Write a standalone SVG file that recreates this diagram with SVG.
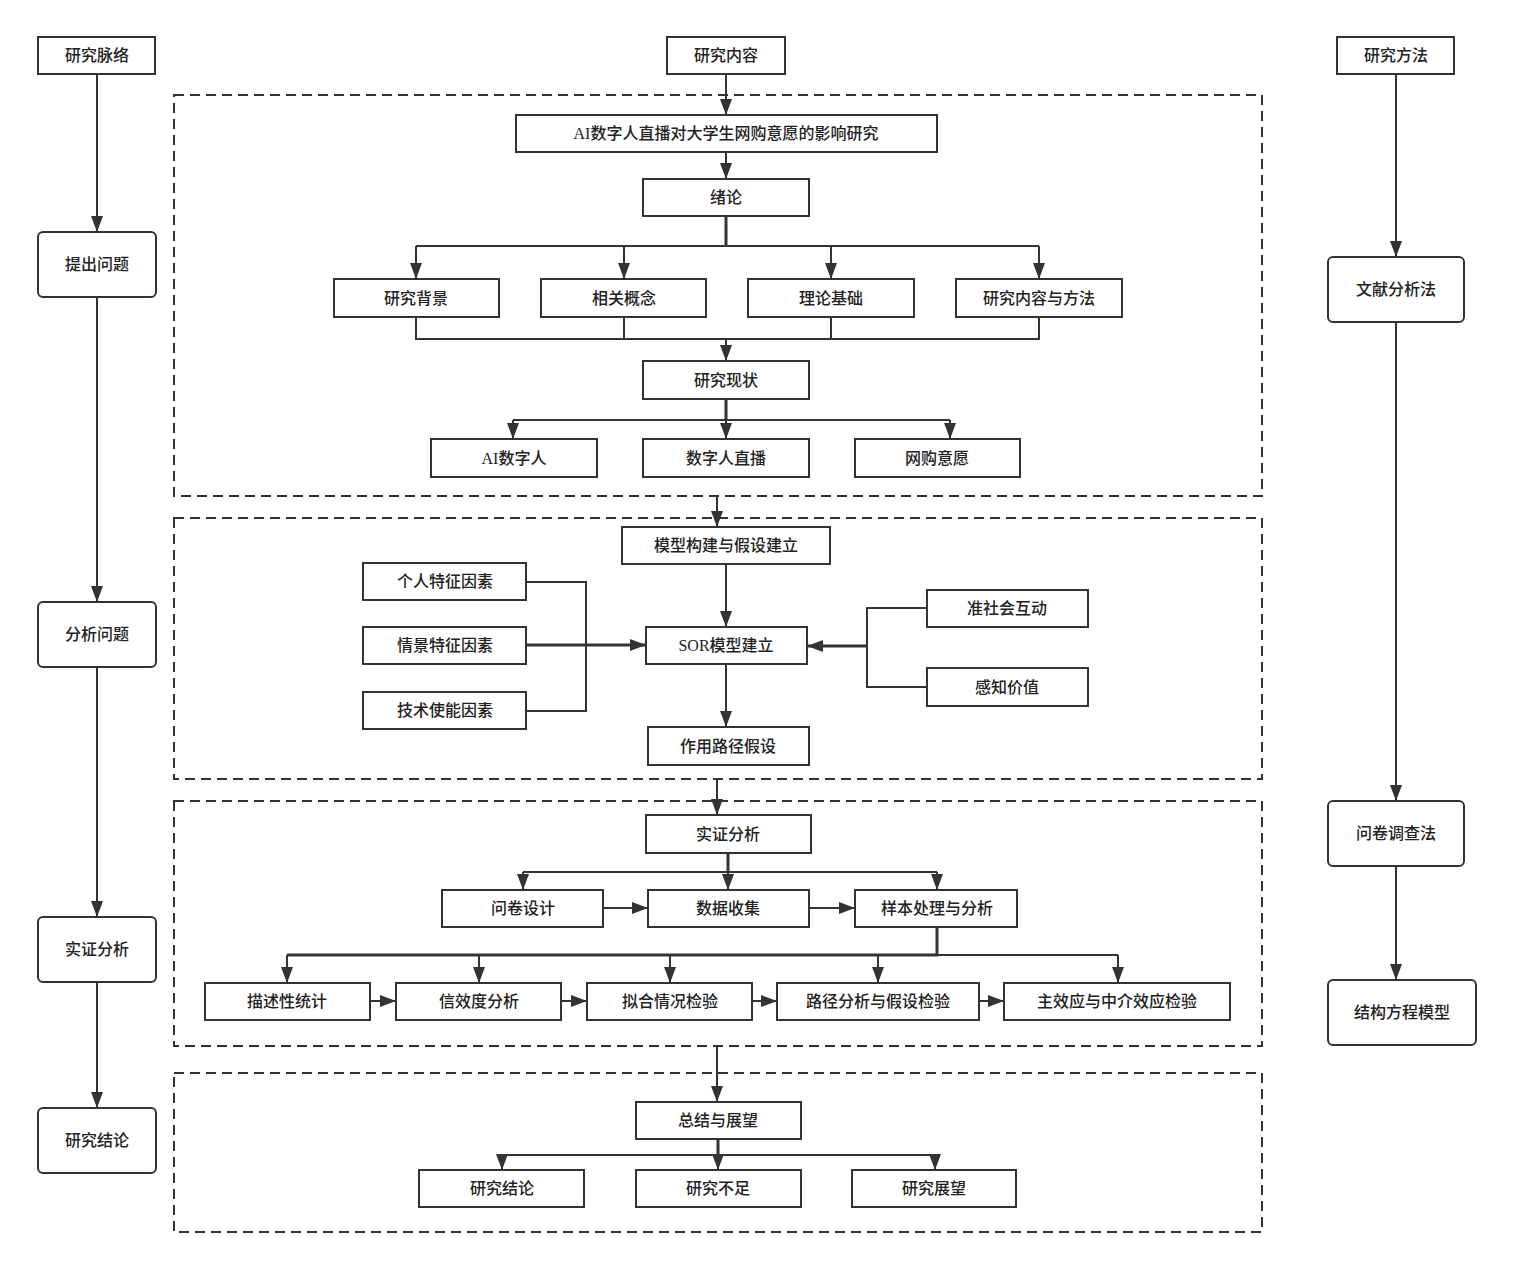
<svg xmlns="http://www.w3.org/2000/svg" width="1513" height="1270" viewBox="0 0 1513 1270">
<style>
.n{fill:#fff;stroke:#333;stroke-width:2}
.t{font-family:"Liberation Serif","Noto Sans CJK SC",serif;font-size:16px;font-weight:500;fill:#222;text-anchor:middle;dominant-baseline:central}
.c{fill:none;stroke:#333;stroke-width:2}
.d{fill:none;stroke:#333;stroke-width:2;stroke-dasharray:10 6}
</style>
<defs>
<marker id="a" markerUnits="userSpaceOnUse" markerWidth="16" markerHeight="12" refX="16" refY="6" orient="auto">
<path d="M0,0 L16,6 L0,12 z" fill="#333"/>
</marker>
</defs>
<rect width="1513" height="1270" fill="#fff"/>
<g id="sections">
<rect class="d" x="174" y="95" width="1088" height="401"/>
<rect class="d" x="174" y="518" width="1088" height="261"/>
<rect class="d" x="174" y="801" width="1088" height="245"/>
<rect class="d" x="174" y="1073" width="1088" height="159"/>
</g>
<g id="connectors">
<path class="c" d="M97,74 V232" marker-end="url(#a)"/>
<path class="c" d="M97,297 V602" marker-end="url(#a)"/>
<path class="c" d="M97,667 V917" marker-end="url(#a)"/>
<path class="c" d="M97,982 V1108" marker-end="url(#a)"/>
<path class="c" d="M1396,74 V257" marker-end="url(#a)"/>
<path class="c" d="M1396,322 V801" marker-end="url(#a)"/>
<path class="c" d="M1396,866 V980" marker-end="url(#a)"/>
<path class="c" d="M726,74 V115" marker-end="url(#a)"/>
<path class="c" d="M726,152 V179" marker-end="url(#a)"/>
<path class="c" style="stroke-width:3" d="M726,216 V246"/>
<path class="c" d="M416,246 H1039"/>
<path class="c" d="M416,246 V279" marker-end="url(#a)"/>
<path class="c" d="M624,246 V279" marker-end="url(#a)"/>
<path class="c" d="M831,246 V279" marker-end="url(#a)"/>
<path class="c" d="M1039,246 V279" marker-end="url(#a)"/>
<path class="c" d="M416,317 V339 H1039 V317 M624,317 V339 M831,317 V339"/>
<path class="c" d="M726,339 V361" marker-end="url(#a)"/>
<path class="c" style="stroke-width:3" d="M726,399 V420"/>
<path class="c" d="M513,420 H950"/>
<path class="c" d="M513,420 V439" marker-end="url(#a)"/>
<path class="c" d="M726,420 V439" marker-end="url(#a)"/>
<path class="c" d="M950,420 V439" marker-end="url(#a)"/>
<path class="c" d="M717,496 V527" marker-end="url(#a)"/>
<path class="c" d="M726,564 V627" marker-end="url(#a)"/>
<path class="c" d="M526,582 H586 V711 H526"/>
<path class="c" style="stroke-width:3" d="M526,645 H646" marker-end="url(#a)"/>
<path class="c" d="M927,608 H867 V687 H927"/>
<path class="c" style="stroke-width:3" d="M867,646 H807" marker-end="url(#a)"/>
<path class="c" d="M726,664 V727" marker-end="url(#a)"/>
<path class="c" d="M717,779 V815" marker-end="url(#a)"/>
<path class="c" style="stroke-width:3" d="M728,853 V872"/>
<path class="c" d="M523,872 H937"/>
<path class="c" d="M523,872 V890" marker-end="url(#a)"/>
<path class="c" d="M728,872 V890" marker-end="url(#a)"/>
<path class="c" d="M937,872 V890" marker-end="url(#a)"/>
<path class="c" d="M603,908 H648" marker-end="url(#a)"/>
<path class="c" d="M809,908 H855" marker-end="url(#a)"/>
<path class="c" style="stroke-width:3" d="M937,927 V955 H287"/>
<path class="c" d="M937,955 H1118"/>
<path class="c" d="M287,955 V983" marker-end="url(#a)"/>
<path class="c" d="M479,955 V983" marker-end="url(#a)"/>
<path class="c" d="M670,955 V983" marker-end="url(#a)"/>
<path class="c" d="M878,955 V983" marker-end="url(#a)"/>
<path class="c" d="M1118,955 V983" marker-end="url(#a)"/>
<path class="c" d="M370,1001 H396" marker-end="url(#a)"/>
<path class="c" d="M561,1001 H587" marker-end="url(#a)"/>
<path class="c" d="M752,1001 H777" marker-end="url(#a)"/>
<path class="c" d="M979,1001 H1004" marker-end="url(#a)"/>
<path class="c" d="M717,1046 V1102" marker-end="url(#a)"/>
<path class="c" style="stroke-width:3" d="M718,1139 V1155"/>
<path class="c" d="M502,1155 H935"/>
<path class="c" d="M502,1155 V1170" marker-end="url(#a)"/>
<path class="c" d="M718,1155 V1170" marker-end="url(#a)"/>
<path class="c" d="M935,1155 V1170" marker-end="url(#a)"/>
</g>
<g id="n-mailuo"><rect class="n" x="38" y="37" width="117" height="37"/><text class="t" x="97" y="55">研究脉络</text></g>
<g id="n-tichu"><rect class="n" x="38" y="232" width="118" height="65" rx="5"/><text class="t" x="97" y="264">提出问题</text></g>
<g id="n-fenxi"><rect class="n" x="38" y="602" width="118" height="65" rx="5"/><text class="t" x="97" y="634">分析问题</text></g>
<g id="n-shizheng-l"><rect class="n" x="38" y="917" width="118" height="65" rx="5"/><text class="t" x="97" y="949">实证分析</text></g>
<g id="n-jielun-l"><rect class="n" x="38" y="1108" width="118" height="65" rx="5"/><text class="t" x="97" y="1140">研究结论</text></g>
<g id="n-neirong"><rect class="n" x="667" y="37" width="118" height="37"/><text class="t" x="726" y="55">研究内容</text></g>
<g id="n-fangfa"><rect class="n" x="1337" y="37" width="117" height="37"/><text class="t" x="1396" y="55">研究方法</text></g>
<g id="n-wenxian"><rect class="n" x="1328" y="257" width="136" height="65" rx="5"/><text class="t" x="1396" y="289">文献分析法</text></g>
<g id="n-wenjuan-m"><rect class="n" x="1328" y="801" width="136" height="65" rx="5"/><text class="t" x="1396" y="833">问卷调查法</text></g>
<g id="n-sem"><rect class="n" x="1328" y="980" width="148" height="65" rx="5"/><text class="t" x="1402" y="1012">结构方程模型</text></g>
<g id="n-title"><rect class="n" x="516" y="115" width="421" height="37"/><text class="t" x="726" y="133">AI数字人直播对大学生网购意愿的影响研究</text></g>
<g id="n-xulun"><rect class="n" x="643" y="179" width="166" height="37"/><text class="t" x="726" y="197">绪论</text></g>
<g id="n-beijing"><rect class="n" x="334" y="279" width="165" height="38"/><text class="t" x="416" y="298">研究背景</text></g>
<g id="n-gainian"><rect class="n" x="541" y="279" width="165" height="38"/><text class="t" x="624" y="298">相关概念</text></g>
<g id="n-lilun"><rect class="n" x="748" y="279" width="166" height="38"/><text class="t" x="831" y="298">理论基础</text></g>
<g id="n-nrff"><rect class="n" x="956" y="279" width="166" height="38"/><text class="t" x="1039" y="298">研究内容与方法</text></g>
<g id="n-xianzhuang"><rect class="n" x="643" y="361" width="166" height="38"/><text class="t" x="726" y="380">研究现状</text></g>
<g id="n-ai"><rect class="n" x="431" y="439" width="166" height="38"/><text class="t" x="514" y="458">AI数字人</text></g>
<g id="n-zhibo"><rect class="n" x="643" y="439" width="166" height="38"/><text class="t" x="726" y="458">数字人直播</text></g>
<g id="n-yiyuan"><rect class="n" x="855" y="439" width="165" height="38"/><text class="t" x="937" y="458">网购意愿</text></g>
<g id="n-moxing"><rect class="n" x="622" y="527" width="208" height="37"/><text class="t" x="726" y="545">模型构建与假设建立</text></g>
<g id="n-geren"><rect class="n" x="363" y="563" width="163" height="37"/><text class="t" x="445" y="581">个人特征因素</text></g>
<g id="n-qingjing"><rect class="n" x="363" y="627" width="163" height="37"/><text class="t" x="445" y="645">情景特征因素</text></g>
<g id="n-jishu"><rect class="n" x="363" y="692" width="163" height="37"/><text class="t" x="445" y="710">技术使能因素</text></g>
<g id="n-sor"><rect class="n" x="646" y="627" width="161" height="37"/><text class="t" x="726" y="645">SOR模型建立</text></g>
<g id="n-zhunshehui"><rect class="n" x="927" y="590" width="161" height="37"/><text class="t" x="1007" y="608">准社会互动</text></g>
<g id="n-ganzhi"><rect class="n" x="927" y="668" width="161" height="38"/><text class="t" x="1007" y="687">感知价值</text></g>
<g id="n-lujing"><rect class="n" x="648" y="727" width="161" height="38"/><text class="t" x="728" y="746">作用路径假设</text></g>
<g id="n-shizheng"><rect class="n" x="646" y="815" width="165" height="38"/><text class="t" x="728" y="834">实证分析</text></g>
<g id="n-wjsj"><rect class="n" x="442" y="890" width="161" height="37"/><text class="t" x="523" y="908">问卷设计</text></g>
<g id="n-sjsj"><rect class="n" x="648" y="890" width="161" height="37"/><text class="t" x="728" y="908">数据收集</text></g>
<g id="n-yangben"><rect class="n" x="855" y="890" width="162" height="37"/><text class="t" x="937" y="908">样本处理与分析</text></g>
<g id="n-miaoshu"><rect class="n" x="205" y="983" width="165" height="37"/><text class="t" x="287" y="1001">描述性统计</text></g>
<g id="n-xinxiao"><rect class="n" x="396" y="983" width="165" height="37"/><text class="t" x="479" y="1001">信效度分析</text></g>
<g id="n-nihe"><rect class="n" x="587" y="983" width="165" height="37"/><text class="t" x="670" y="1001">拟合情况检验</text></g>
<g id="n-ljfx"><rect class="n" x="777" y="983" width="202" height="37"/><text class="t" x="878" y="1001">路径分析与假设检验</text></g>
<g id="n-zxy"><rect class="n" x="1004" y="983" width="226" height="37"/><text class="t" x="1117" y="1001">主效应与中介效应检验</text></g>
<g id="n-zongjie"><rect class="n" x="636" y="1102" width="165" height="37"/><text class="t" x="718" y="1120">总结与展望</text></g>
<g id="n-jielun"><rect class="n" x="419" y="1170" width="165" height="37"/><text class="t" x="502" y="1188">研究结论</text></g>
<g id="n-buzu"><rect class="n" x="636" y="1170" width="165" height="37"/><text class="t" x="718" y="1188">研究不足</text></g>
<g id="n-zhanwang"><rect class="n" x="852" y="1170" width="164" height="37"/><text class="t" x="934" y="1188">研究展望</text></g>
</svg>
